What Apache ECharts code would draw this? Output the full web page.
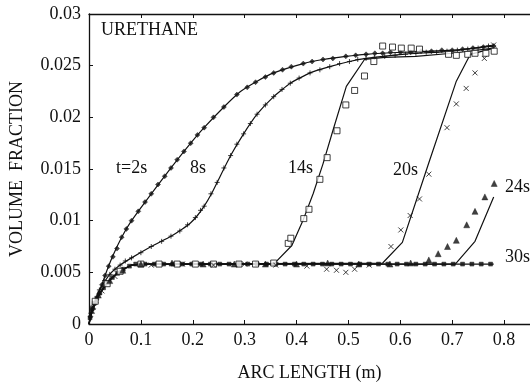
<!DOCTYPE html>
<html>
<head>
<meta charset="utf-8">
<script src="https://cdn.jsdelivr.net/npm/echarts@6/dist/echarts.min.js"></script>
<style>
  html, body { margin: 0; padding: 0; background: #fff; }
  #chart { width: 530px; height: 387px; }
</style>
</head>
<body>
<div id="chart"></div>
<script>
// Axis ticks
const xTicks = [0, 0.1, 0.2, 0.3, 0.4, 0.5, 0.6, 0.7, 0.8];
const xMax = 0.85;
const yTickLabels = ['0', '0.005', '0.01', '0.015', '0.02', '0.025', '0.03'];

// Curve labels (time after start)
const curveNames = ['t=2s', '8s', '14s', '20s', '24s', '30s'];

// Model curves, [arc length (m), volume fraction]
const baseRise = [[0, 0], [0.004, 0.0011], [0.011, 0.0021], [0.02, 0.0029], [0.031, 0.0037],
  [0.043, 0.0044], [0.056, 0.0050], [0.07, 0.0054], [0.082, 0.0057], [0.1, 0.0058]];

const line2s = [[0, 0], [0.005, 0.0010], [0.018, 0.0028], [0.031, 0.0047], [0.046, 0.0066],
  [0.063, 0.0084], [0.082, 0.0100], [0.12, 0.0126], [0.158, 0.0151], [0.196, 0.0175],
  [0.22, 0.0189], [0.26, 0.0210], [0.292, 0.0225], [0.324, 0.0235], [0.356, 0.0243],
  [0.413, 0.0252], [0.451, 0.0256], [0.495, 0.0259], [0.534, 0.0261], [0.604, 0.0263],
  [0.7, 0.0265], [0.78, 0.0269]];

const line8s = [[0, 0], [0.01, 0.0019], [0.021, 0.0034], [0.04, 0.0048], [0.06, 0.0057],
  [0.082, 0.0064], [0.12, 0.0075], [0.158, 0.0085], [0.18, 0.0092], [0.196, 0.0098],
  [0.209, 0.0105], [0.222, 0.0114], [0.235, 0.0125], [0.247, 0.0137], [0.273, 0.0163],
  [0.298, 0.0184], [0.324, 0.0203], [0.356, 0.0220], [0.388, 0.0233], [0.426, 0.0243],
  [0.464, 0.0249], [0.502, 0.0254], [0.534, 0.0257], [0.604, 0.0261], [0.7, 0.0264],
  [0.78, 0.0270]];

const line14s = baseRise.concat([[0.356, 0.0058], [0.391, 0.0076], [0.413, 0.0101],
  [0.432, 0.0126], [0.451, 0.0155], [0.470, 0.0187], [0.496, 0.0230], [0.531, 0.0256],
  [0.57, 0.0258], [0.63, 0.0259], [0.7, 0.0262], [0.78, 0.0267]]);

const line20s = baseRise.concat([[0.566, 0.0059], [0.604, 0.0079], [0.655, 0.0156],
  [0.708, 0.0235], [0.735, 0.0261], [0.78, 0.0267]]);

const line24s = baseRise.concat([[0.706, 0.0058], [0.744, 0.0080], [0.780, 0.0123]]);

const line30s = baseRise.concat([[0.78, 0.0058]]);

// Measured points
const pts2s = [[0.003, 0.0007], [0.008, 0.0015], [0.013, 0.0021], [0.019, 0.0029],
  [0.025, 0.0038], [0.031, 0.0047], [0.038, 0.0056], [0.046, 0.0065], [0.054, 0.0073],
  [0.063, 0.0084], [0.072, 0.0092], [0.082, 0.0100], [0.095, 0.0109], [0.108, 0.0118],
  [0.12, 0.0126], [0.133, 0.0135], [0.146, 0.0143], [0.158, 0.0151], [0.17, 0.0159],
  [0.183, 0.0167], [0.196, 0.0175], [0.209, 0.0183], [0.222, 0.0190], [0.24, 0.0200],
  [0.26, 0.0210], [0.285, 0.0222], [0.305, 0.0229], [0.321, 0.0234], [0.34, 0.0239],
  [0.356, 0.0243], [0.373, 0.0246], [0.39, 0.0249], [0.413, 0.0252], [0.43, 0.0254],
  [0.451, 0.0256], [0.47, 0.0257], [0.495, 0.0259], [0.514, 0.0260], [0.534, 0.0261],
  [0.551, 0.0262], [0.566, 0.0262], [0.581, 0.0263], [0.6, 0.0263], [0.62, 0.0263],
  [0.64, 0.0264], [0.66, 0.0264], [0.68, 0.0265], [0.70, 0.0265], [0.72, 0.0266],
  [0.74, 0.0267], [0.76, 0.0268], [0.78, 0.0269]];

const pts8s = [[0.01, 0.0019], [0.02, 0.0033], [0.03, 0.0042], [0.04, 0.0048],
  [0.05, 0.0053], [0.06, 0.0057], [0.07, 0.0061], [0.082, 0.0064], [0.1, 0.0069],
  [0.12, 0.0075], [0.14, 0.0080], [0.158, 0.0085], [0.175, 0.0090], [0.19, 0.0096],
  [0.205, 0.0103], [0.215, 0.0110], [0.222, 0.0114], [0.235, 0.0126], [0.247, 0.0137],
  [0.26, 0.0151], [0.273, 0.0163], [0.285, 0.0174], [0.298, 0.0184], [0.311, 0.0194],
  [0.324, 0.0203], [0.34, 0.0212], [0.356, 0.0220], [0.372, 0.0227], [0.388, 0.0233],
  [0.405, 0.0238], [0.426, 0.0243], [0.445, 0.0246], [0.464, 0.0249], [0.483, 0.0252],
  [0.502, 0.0254], [0.518, 0.0256], [0.534, 0.0257], [0.55, 0.0258], [0.57, 0.0259],
  [0.59, 0.0260], [0.61, 0.0261], [0.63, 0.0262], [0.65, 0.0263], [0.67, 0.0263],
  [0.69, 0.0264], [0.71, 0.0265], [0.73, 0.0266], [0.75, 0.0267], [0.77, 0.0269]];

const pts14s = [[0.012, 0.0022], [0.035, 0.0039], [0.06, 0.0051], [0.1, 0.0058],
  [0.135, 0.0058], [0.17, 0.0058], [0.205, 0.0058], [0.24, 0.0058], [0.289, 0.0058],
  [0.321, 0.0058], [0.356, 0.0059], [0.384, 0.0078], [0.389, 0.0083], [0.414, 0.0102],
  [0.424, 0.0111], [0.445, 0.0140], [0.459, 0.0161], [0.478, 0.0187], [0.495, 0.0212],
  [0.512, 0.0226], [0.531, 0.0240], [0.549, 0.0254], [0.566, 0.0269], [0.585, 0.0268],
  [0.602, 0.0267], [0.621, 0.0267], [0.637, 0.0266], [0.693, 0.0261], [0.708, 0.0260],
  [0.730, 0.0261], [0.744, 0.0262], [0.765, 0.0262], [0.781, 0.0264]];

const pts20s = [[0.008, 0.0016], [0.025, 0.0032], [0.05, 0.0046], [0.12, 0.0057],
  [0.18, 0.0058], [0.24, 0.0057], [0.3, 0.0058], [0.36, 0.0057], [0.42, 0.0056],
  [0.458, 0.0053], [0.477, 0.0052], [0.495, 0.0050], [0.512, 0.0053], [0.54, 0.0057],
  [0.582, 0.0075], [0.601, 0.0091], [0.619, 0.0105], [0.637, 0.0121], [0.655, 0.0145],
  [0.690, 0.0190], [0.708, 0.0213], [0.727, 0.0228], [0.744, 0.0243], [0.762, 0.0257],
  [0.780, 0.0270]];

const pts24s = [[0.005, 0.0013], [0.018, 0.0028], [0.04, 0.0042], [0.065, 0.0052],
  [0.1, 0.0058], [0.16, 0.0059], [0.22, 0.0058], [0.28, 0.0058], [0.34, 0.0058],
  [0.4, 0.0058], [0.46, 0.0059], [0.52, 0.0058], [0.58, 0.0058], [0.62, 0.0059],
  [0.655, 0.0062], [0.673, 0.0068], [0.691, 0.0075], [0.708, 0.0081], [0.728, 0.0096],
  [0.744, 0.0109], [0.763, 0.0123], [0.781, 0.0136]];

const pts30s = [[0.002, 0.0006], [0.006, 0.0015], [0.01, 0.0020], [0.015, 0.0025],
  [0.021, 0.0030], [0.028, 0.0035], [0.036, 0.0040], [0.045, 0.0045], [0.055, 0.0049],
  [0.066, 0.0053], [0.078, 0.0056], [0.09, 0.0058], [0.108, 0.0058], [0.126, 0.0058],
  [0.144, 0.0058], [0.162, 0.0058], [0.18, 0.0058], [0.198, 0.0058], [0.216, 0.0058],
  [0.234, 0.0058], [0.252, 0.0058], [0.27, 0.0058], [0.288, 0.0058], [0.306, 0.0058],
  [0.324, 0.0058], [0.342, 0.0058], [0.36, 0.0058], [0.378, 0.0058], [0.396, 0.0058],
  [0.414, 0.0058], [0.432, 0.0058], [0.45, 0.0058], [0.468, 0.0058], [0.486, 0.0058],
  [0.504, 0.0058], [0.522, 0.0058], [0.54, 0.0058], [0.558, 0.0058], [0.576, 0.0058],
  [0.594, 0.0058], [0.612, 0.0058], [0.63, 0.0058], [0.648, 0.0058], [0.666, 0.0058],
  [0.684, 0.0058], [0.702, 0.0058], [0.72, 0.0058], [0.738, 0.0058], [0.756, 0.0058],
  [0.774, 0.0058]];

const SERIF = '"Liberation Serif", "DejaVu Serif", serif';
const INK = '#111';
const FS = 18;

const plusPath = 'path://M5,0L5,10M0,5L10,5';
const crossPath = 'path://M0,0L10,10M10,0L0,10';

function modelLine(name, data, smooth) {
  return {
    name: name, type: 'line', data: data, showSymbol: false, smooth: smooth || false,
    lineStyle: { color: INK, width: 1.2 }, silent: true, z: 2
  };
}

function marks(name, data, symbol, size, filled) {
  return {
    name: name, type: 'scatter', data: data, symbol: symbol, symbolSize: size,
    itemStyle: filled
      ? { color: INK, borderColor: INK, borderWidth: 0.5 }
      : { color: symbol.startsWith('path') ? 'transparent' : '#fff', borderColor: INK, borderWidth: 1 },
    silent: true, z: 3
  };
}

const chart = echarts.init(document.getElementById('chart'), null, { renderer: 'canvas' });

const textStyle = { fontFamily: SERIF, fontSize: FS, fill: INK };

function label(text, x, y) {
  return { type: 'text', left: x, top: y, style: Object.assign({ text: text }, textStyle) };
}

chart.setOption({
  animation: false,
  backgroundColor: '#fff',
  grid: { left: 85, top: 14, bottom: 58, right: 0 },
  xAxis: [{
    type: 'value', min: xTicks[0], max: xMax, interval: 0.1,
    position: 'bottom',
    axisLine: { lineStyle: { color: INK, width: 1.3 } },
    axisTick: { inside: true, length: 4, lineStyle: { color: INK } },
    axisLabel: { color: INK, fontFamily: SERIF, fontSize: FS, margin: 7, showMaxLabel: false,
      formatter: v => String(Math.round(v * 10) / 10) },
    splitLine: { show: false },
    name: 'ARC LENGTH (m)', nameLocation: 'middle', nameGap: 40,
    nameTextStyle: { color: INK, fontFamily: SERIF, fontSize: FS }
  }, {
    type: 'value', min: xTicks[0], max: xMax, interval: 0.1,
    position: 'top',
    axisLine: { show: true, lineStyle: { color: INK, width: 1.3 } },
    axisTick: { show: true, inside: true, length: 4, lineStyle: { color: INK } },
    axisLabel: { show: false }, splitLine: { show: false }
  }],
  yAxis: [{
    type: 'value', min: 0, max: 0.03, interval: 0.005,
    axisLine: { show: true, lineStyle: { color: INK, width: 1.3 } },
    axisTick: { show: true, inside: true, length: 4, lineStyle: { color: INK } },
    axisLabel: { color: INK, fontFamily: SERIF, fontSize: FS, margin: 8,
      formatter: v => yTickLabels[Math.round(v / 0.005)] },
    splitLine: { show: false },
    name: 'VOLUME  FRACTION', nameLocation: 'middle', nameGap: 63, nameRotate: 90,
    nameTextStyle: { color: INK, fontFamily: SERIF, fontSize: FS }
  }],
  graphic: [
    label('URETHANE', 101, 21),
    label(curveNames[0], 116, 159),
    label(curveNames[1], 190, 159),
    label(curveNames[2], 288, 159),
    label(curveNames[3], 393, 161),
    label(curveNames[4], 505, 178),
    label(curveNames[5], 505, 248)
  ],
  series: [
    modelLine('2s', line2s, 0.2),
    modelLine('8s', line8s, 0.15),
    modelLine('14s', line14s),
    modelLine('20s', line20s),
    modelLine('24s', line24s),
    modelLine('30s', line30s),
    marks('30s pts', pts30s, 'rect', 4, true),
    marks('2s pts', pts2s, 'diamond', 5, true),
    marks('8s pts', pts8s, plusPath, 5, false),
    marks('14s pts', pts14s, 'rect', 6, false),
    marks('20s pts', pts20s, crossPath, 5, false),
    marks('24s pts', pts24s, 'triangle', 6, true)
  ]
});
</script>
</body>
</html>
